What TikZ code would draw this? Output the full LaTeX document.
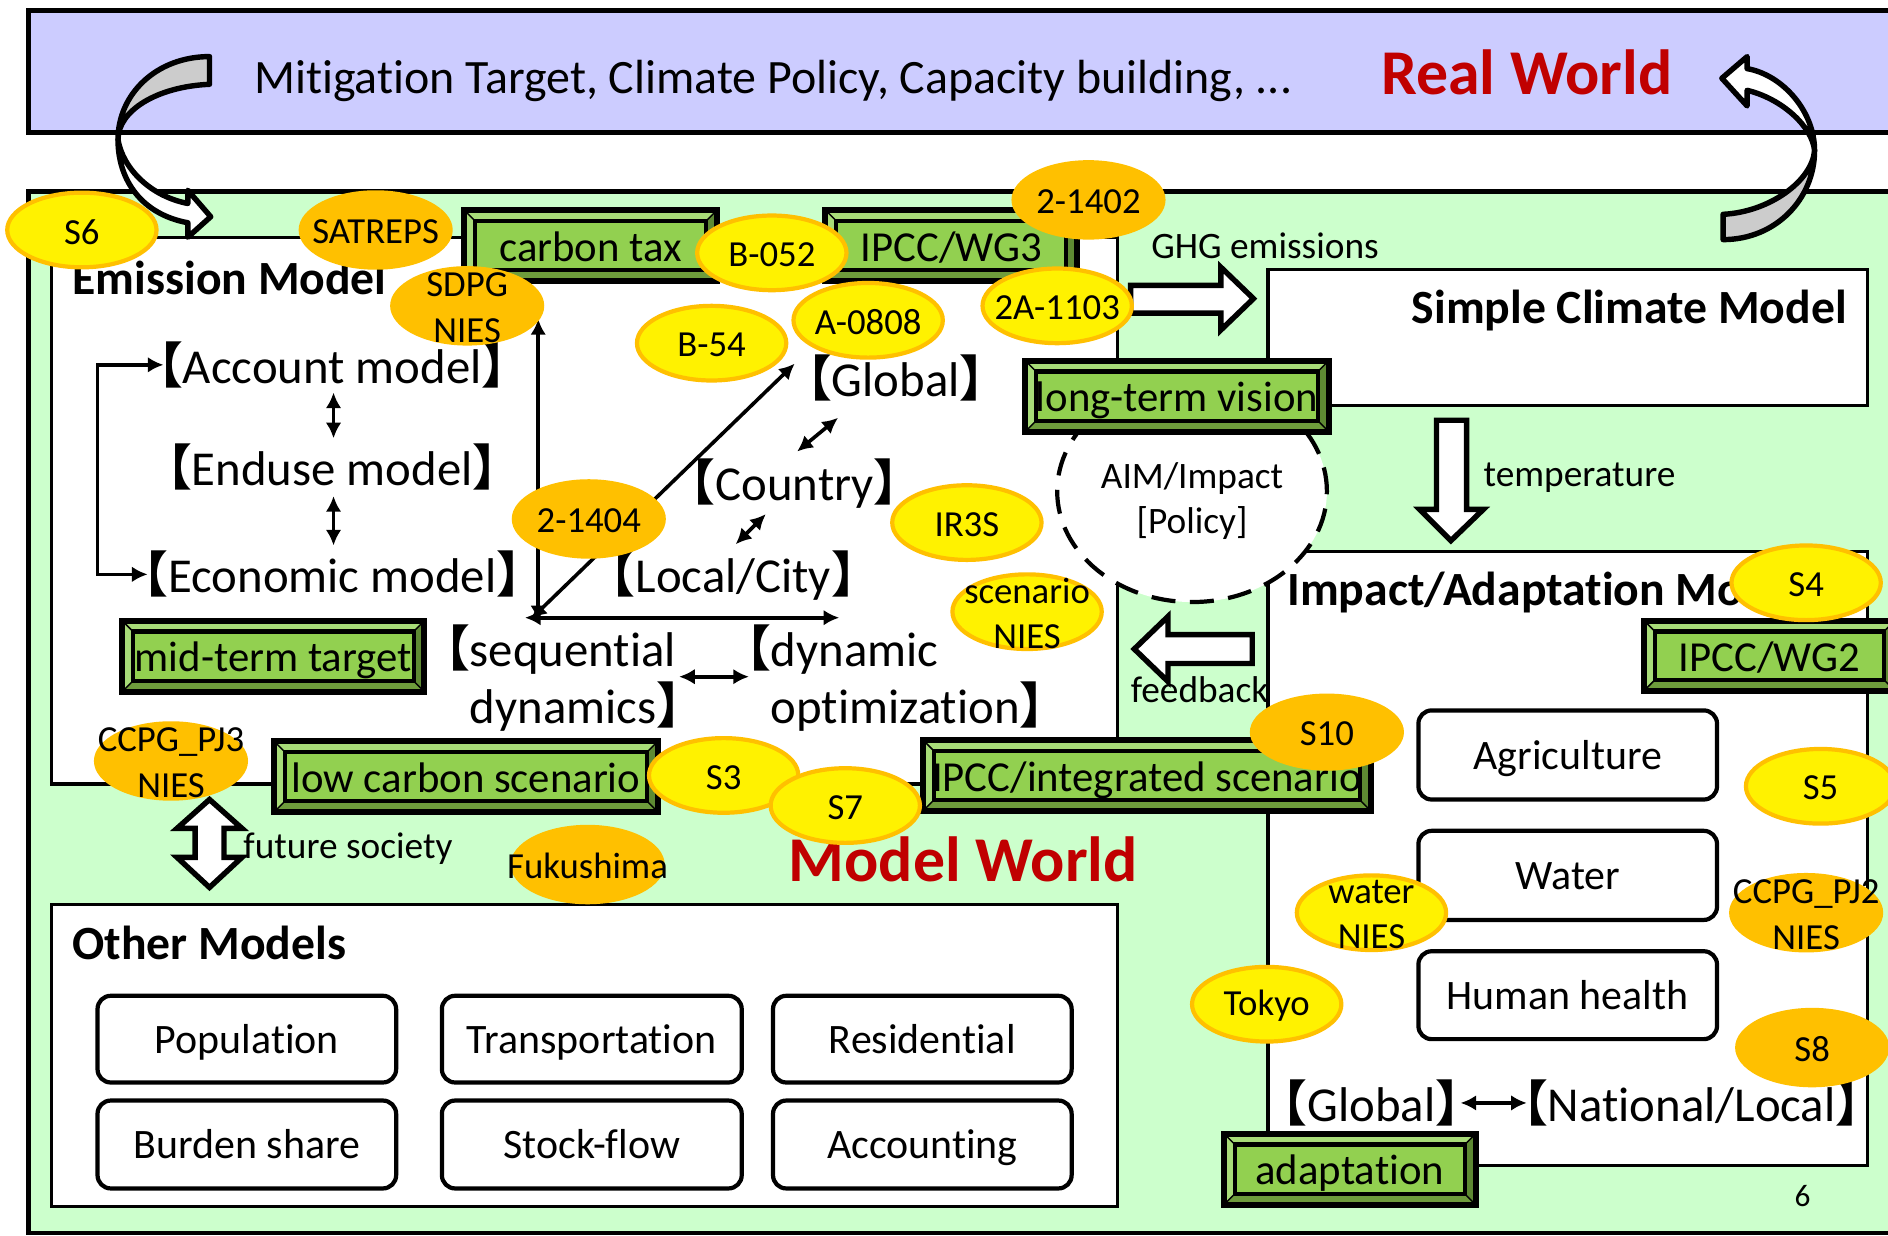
\documentclass[tikz,border=0pt]{standalone}
\usepackage{fontspec}
\setmainfont[Ligatures=NoCommon]{Carlito}
\newfontfamily\cjkf{Noto Sans CJK JP}
\usetikzlibrary{arrows.meta,shapes.geometric,calc}
\definecolor{realfill}{HTML}{CCCCFF}
\definecolor{modelfill}{HTML}{CCFFCC}
\definecolor{bevelfill}{HTML}{92D050}
\definecolor{beveltop}{HTML}{A8DC78}
\definecolor{bevelbot}{HTML}{6E9C3C}
\definecolor{bevelside}{HTML}{5E8A33}
\definecolor{orangefill}{HTML}{FFC000}
\definecolor{redtitle}{HTML}{C00000}
\definecolor{arrowgray}{HTML}{CCCCCC}
\newcommand{\fs}[1]{\fontsize{#1}{#1}\selectfont}
\newcommand{\lb}{\llap{\cjkf\bfseries 【}}
\newcommand{\rb}{\rlap{\cjkf\bfseries 】}}
\tikzset{
  bandbox/.style={draw=black,line width=4pt},
  modelbox/.style={draw=black,line width=2.8pt,fill=white,rectangle,inner sep=0pt},
  roundbox/.style={draw=black,line width=3.5pt,fill=white,rectangle,rounded corners=11pt,inner sep=0pt,font=\fs{34.8},text height=24pt,text depth=0pt},
  bevelbox/.style={draw=black,line width=5pt,fill=bevelfill,rectangle,inner sep=0pt,font=\fs{35.5},text height=26pt,text depth=0pt,
    path picture={
      \coordinate (nw) at (path picture bounding box.north west);
      \coordinate (ne) at (path picture bounding box.north east);
      \coordinate (sw) at (path picture bounding box.south west);
      \coordinate (se) at (path picture bounding box.south east);
      \coordinate (inw) at ($(nw)+(9pt,-9pt)$);
      \coordinate (ine) at ($(ne)+(-9pt,-9pt)$);
      \coordinate (isw) at ($(sw)+(9pt,9pt)$);
      \coordinate (ise) at ($(se)+(-9pt,9pt)$);
      \fill[beveltop] (nw)--(ne)--(ine)--(inw)--cycle;
      \fill[beveltop] (nw)--(sw)--(isw)--(inw)--cycle;
      \fill[bevelbot] (sw)--(se)--(ise)--(isw)--cycle;
      \fill[bevelside] (ne)--(se)--(ise)--(ine)--cycle;
      \draw[black,line width=1.2pt] (nw)--(inw) (ne)--(ine) (sw)--(isw) (se)--(ise);
      \draw[black,line width=3.5pt] (inw)--(ine)--(ise)--(isw)--cycle;
    }},
  yelnode/.style={ellipse,draw=orangefill,line width=3.5pt,fill=yellow,inner sep=0pt},
  orgnode/.style={ellipse,fill=orangefill,inner sep=0pt},
  dbl/.style={{Latex[length=13pt,width=13pt]}-{Latex[length=13pt,width=13pt]},line width=3pt,black},
  blockarrow/.style={draw=black,line width=4.5pt,fill=white,line join=miter,miter limit=6},
  curvearrow/.style={draw=black,line width=4.5pt,line join=round},
  title/.style={font=\bfseries\fs{53},text=redtitle,inner sep=0pt},
  heading/.style={font=\bfseries\fs{39.6},inner sep=0pt},
  midtext/.style={font=\fs{40.5},inner sep=2pt},
  smalltext/.style={font=\fs{31},inner sep=0pt},
}
% [shrink], style, name, x1, y1, x2, y2, text
\newcommand{\boxat}[8][3]{%
  \pgfmathsetmacro\bw{#6-#4-#1}\pgfmathsetmacro\bh{#7-#5-#1}%
  \pgfmathsetmacro\bx{(#4+#6)/2}\pgfmathsetmacro\by{(#5+#7)/2}%
  \node[#2,minimum width=\bw pt,minimum height=\bh pt] (#3) at (\bx,\by) {#8};}
% style, name, cx, cy, rx, ry, text
\newcommand{\bub}[7]{%
  \pgfmathsetmacro\bw{2*#5}\pgfmathsetmacro\bh{2*#6}%
  \node[#1,minimum width=\bw pt,minimum height=\bh pt,
    label={[align=center,inner sep=0pt,yshift=-1.5pt,font=\fontsize{30.5}{38}\selectfont]center:{#7}}] (#2) at (#3,#4) {};}
\begin{document}
\begin{tikzpicture}[x=1pt,y=-1pt]
\useasboundingbox (0,0) rectangle (1568,1025.7);
% background panels
\draw[bandbox,fill=realfill] (24,9) rectangle (1600,110);
\draw[bandbox,fill=modelfill] (24,159) rectangle (1600,1024);
% model boxes
\boxat[0]{modelbox}{emis}{43}{197}{928}{651}{}
\boxat[0]{modelbox}{other}{43}{751}{928}{1002}{}
\boxat[0]{modelbox}{simple}{1053}{224}{1551}{337}{}
\boxat[0]{modelbox}{impact}{1053}{458}{1551}{968}{}
% dashed circle
\node[ellipse,draw=black,dashed,dash pattern=on 20pt off 12pt,line width=3.5pt,fill=white,minimum width=224pt,minimum height=184pt,inner sep=0pt] (aim) at (990,408) {};
\node[align=center,font=\fontsize{31}{37}\selectfont,inner sep=0pt] (aimt) at (990,416) {AIM/Impact\\{[Policy]}};
% real world band text
\node[anchor=west,font=\fs{39.8},inner sep=0pt] (mit) at (211,67) {Mitigation Target, Climate Policy, Capacity building, ...};
\node[title] (real) at (1268,60) {Real World};
\node[title] (model) at (800,714) {Model World};
% headings
\node[heading,anchor=west] (emh) at (60,231) {Emission Model};
\node[heading,anchor=west] (oth) at (60,783) {Other Models};
\node[heading,anchor=east] (sch) at (1534,258) {Simple Climate Model};
\node[heading,anchor=west] (imh) at (1069,492) {Impact/Adaptation Model};
% emission model text
\node[midtext] (acct) at (276,303) {\lb Account model\rb};
\node[midtext] (endu) at (276,388) {\lb Enduse model\rb};
\node[midtext] (econ) at (276,477) {\lb Economic model\rb};
\node[midtext] (glob) at (744,314) {\lb Global\rb};
\node[midtext] (coun) at (660,402) {\lb Country\rb};
\node[midtext] (loca) at (609,478) {\lb Local/City\rb};
\node[midtext,align=left,font=\fontsize{40.5}{47}\selectfont,anchor=north west] (sequ) at (388,517) {\lb sequential\\dynamics\rb};
\node[midtext,align=left,font=\fontsize{40.5}{47}\selectfont,anchor=north west] (dyna) at (638,517) {\lb dynamic\\optimization\rb};
\node[midtext] (ggl) at (1139,916) {\lb Global\rb};
\node[midtext] (nat) at (1405,916) {\lb National/Local\rb};
% small labels
\node[smalltext,anchor=west] (ghg) at (956,204) {GHG emissions};
\node[smalltext,anchor=west] (tem) at (1232,397) {temperature};
\node[smalltext,anchor=west] (fee) at (939,573) {feedback};
\node[smalltext,anchor=west] (fut) at (202,705) {future society};
\node[font=\fs{26},inner sep=0pt] (pg) at (1497,993) {6};
% rounded boxes
\boxat[2]{roundbox}{pop}{80}{826}{330}{900}{Population}
\boxat[2]{roundbox}{tra}{366}{826}{617}{900}{Transportation}
\boxat[2]{roundbox}{res}{641}{826}{891}{900}{Residential}
\boxat[2]{roundbox}{bur}{80}{913}{330}{988}{Burden share}
\boxat[2]{roundbox}{sto}{366}{913}{617}{988}{Stock-flow}
\boxat[2]{roundbox}{acc}{641}{913}{891}{988}{Accounting}
\boxat[2]{roundbox}{agr}{1177}{589}{1427}{665}{Agriculture}
\boxat[2]{roundbox}{wat}{1177}{689}{1427}{765}{Water}
\boxat[2]{roundbox}{hum}{1177}{789}{1427}{864}{Human health}
% connectors
\coordinate (loopl) at (81,390);
\coordinate (corner) at (441,514);
\coordinate (uptip) at (447,265);
\coordinate (upend) at (447,516);
\coordinate (diagtip) at (660,302);
\coordinate (horztip) at (697,513);
\draw[dbl] ([xshift=-14pt]acct.west) -| (loopl) |- ([xshift=-15pt]econ.west);
\draw[dbl] (277,326) -- (277,364);
\draw[dbl] (277,412) -- (277,453);
\draw[dbl] (upend) -- (uptip);
\draw[dbl] (corner) -- (diagtip);
\draw[dbl] (436,513) -- (horztip);
\draw[dbl] (662,375) -- (696,347);
\draw[dbl] (611,452) -- (636,427);
\draw[dbl] (564,562) -- (622,562);
\draw[dbl] (1213,916) -- (1268,916);
% block arrows
\draw[blockarrow] (939,237) -- (1014,237) -- (1014,222) -- (1041,248) -- (1014,274) -- (1014,260) -- (939,260) -- cycle;
\draw[blockarrow] (1193,349) -- (1218,349) -- (1218,423) -- (1232,423) -- (1205,449) -- (1179,423) -- (1193,423) -- cycle;
\draw[blockarrow] (1040,527) -- (970,527) -- (970,512) -- (942,539) -- (970,566) -- (970,551) -- (1040,551) -- cycle;
\draw[blockarrow] (174,664) -- (201,688) -- (186,688) -- (186,712) -- (201,712) -- (174,737) -- (147,712) -- (162,712) -- (162,688) -- (147,688) -- cycle;
% curved arrows
\draw[curvearrow,fill=arrowgray] (174,47) .. controls (130,47) and (98,78) .. (98,116) .. controls (98,92) and (130,72) .. (174,70) -- cycle;
\draw[curvearrow,fill=white] (98,116) .. controls (98,150) and (118,178) .. (156,185) -- (156,197) -- (175,180) -- (156,158) -- (156,169) .. controls (125,163) and (102,140) .. (98,116) -- cycle;
\draw[curvearrow,fill=white] (1507,125) .. controls (1507,92) and (1480,62) .. (1451,57) -- (1451,47) -- (1430,65) -- (1451,88) -- (1451,75) .. controls (1480,82) and (1505,105) .. (1507,125) -- cycle;
\draw[curvearrow,fill=arrowgray] (1507,125) .. controls (1507,165) and (1475,199) .. (1431,199) -- (1431,178) .. controls (1470,176) and (1505,150) .. (1507,125) -- cycle;
% bevel boxes
\boxat{bevelbox}{ctax}{384}{173}{597}{235}{carbon tax}
\boxat{bevelbox}{wg3}{684}{173}{896}{235}{IPCC/WG3}
\boxat{bevelbox}{ltv}{850}{298}{1105}{360}{long-term vision}
\boxat{bevelbox}{mtt}{100}{514}{354}{576}{mid-term target}
\boxat{bevelbox}{lcs}{226}{614}{548}{676}{low carbon scenario}
\boxat{bevelbox}{iis}{765}{613}{1140}{675}{IPCC/integrated scenario}
\boxat{bevelbox}{wg2}{1364}{514}{1575}{575}{IPCC/WG2}
\boxat{bevelbox}{ada}{1015}{940}{1227}{1002}{adaptation}
% project bubbles
\bub{yelnode}{s6}{68}{191}{62}{31}{S6}
\bub{orgnode}{sat}{312}{191}{64}{33}{SATREPS}
\bub{orgnode}{sdpg}{388}{254}{64}{33}{SDPG\\NIES}
\bub{yelnode}{b052}{641}{210}{62}{31}{B-052}
\bub{orgnode}{p1402}{904}{166}{64}{33}{2-1402}
\bub{yelnode}{a1103}{878}{254}{62}{31}{2A-1103}
\bub{yelnode}{a0808}{721}{266}{62}{31}{A-0808}
\bub{yelnode}{b54}{591}{285}{62}{31}{B-54}
\bub{orgnode}{p1404}{489}{431}{64}{33}{2-1404}
\bub{yelnode}{ir3s}{803}{434}{62}{31}{IR3S}
\bub{yelnode}{scen}{853}{508}{62}{31}{scenario\\NIES}
\bub{yelnode}{s4}{1500}{484}{62}{31}{S4}
\bub{orgnode}{s10}{1102}{608}{64}{32}{S10}
\bub{yelnode}{s3}{601}{644}{62}{31}{S3}
\bub{yelnode}{s7}{702}{669}{62}{31}{S7}
\bub{orgnode}{pj3}{142}{632}{64}{33}{CCPG\_PJ3\\NIES}
\bub{orgnode}{fuku}{488}{718}{64}{33}{Fukushima}
\bub{yelnode}{s5}{1512}{653}{62}{31}{S5}
\bub{orgnode}{pj2}{1500}{758}{64}{33}{CCPG\_PJ2\\NIES}
\bub{yelnode}{water}{1139}{758}{62}{31}{water\\NIES}
\bub{yelnode}{tokyo}{1052}{834}{62}{31}{Tokyo}
\bub{orgnode}{s8}{1505}{870}{64}{33}{S8}
\end{tikzpicture}
\end{document}
